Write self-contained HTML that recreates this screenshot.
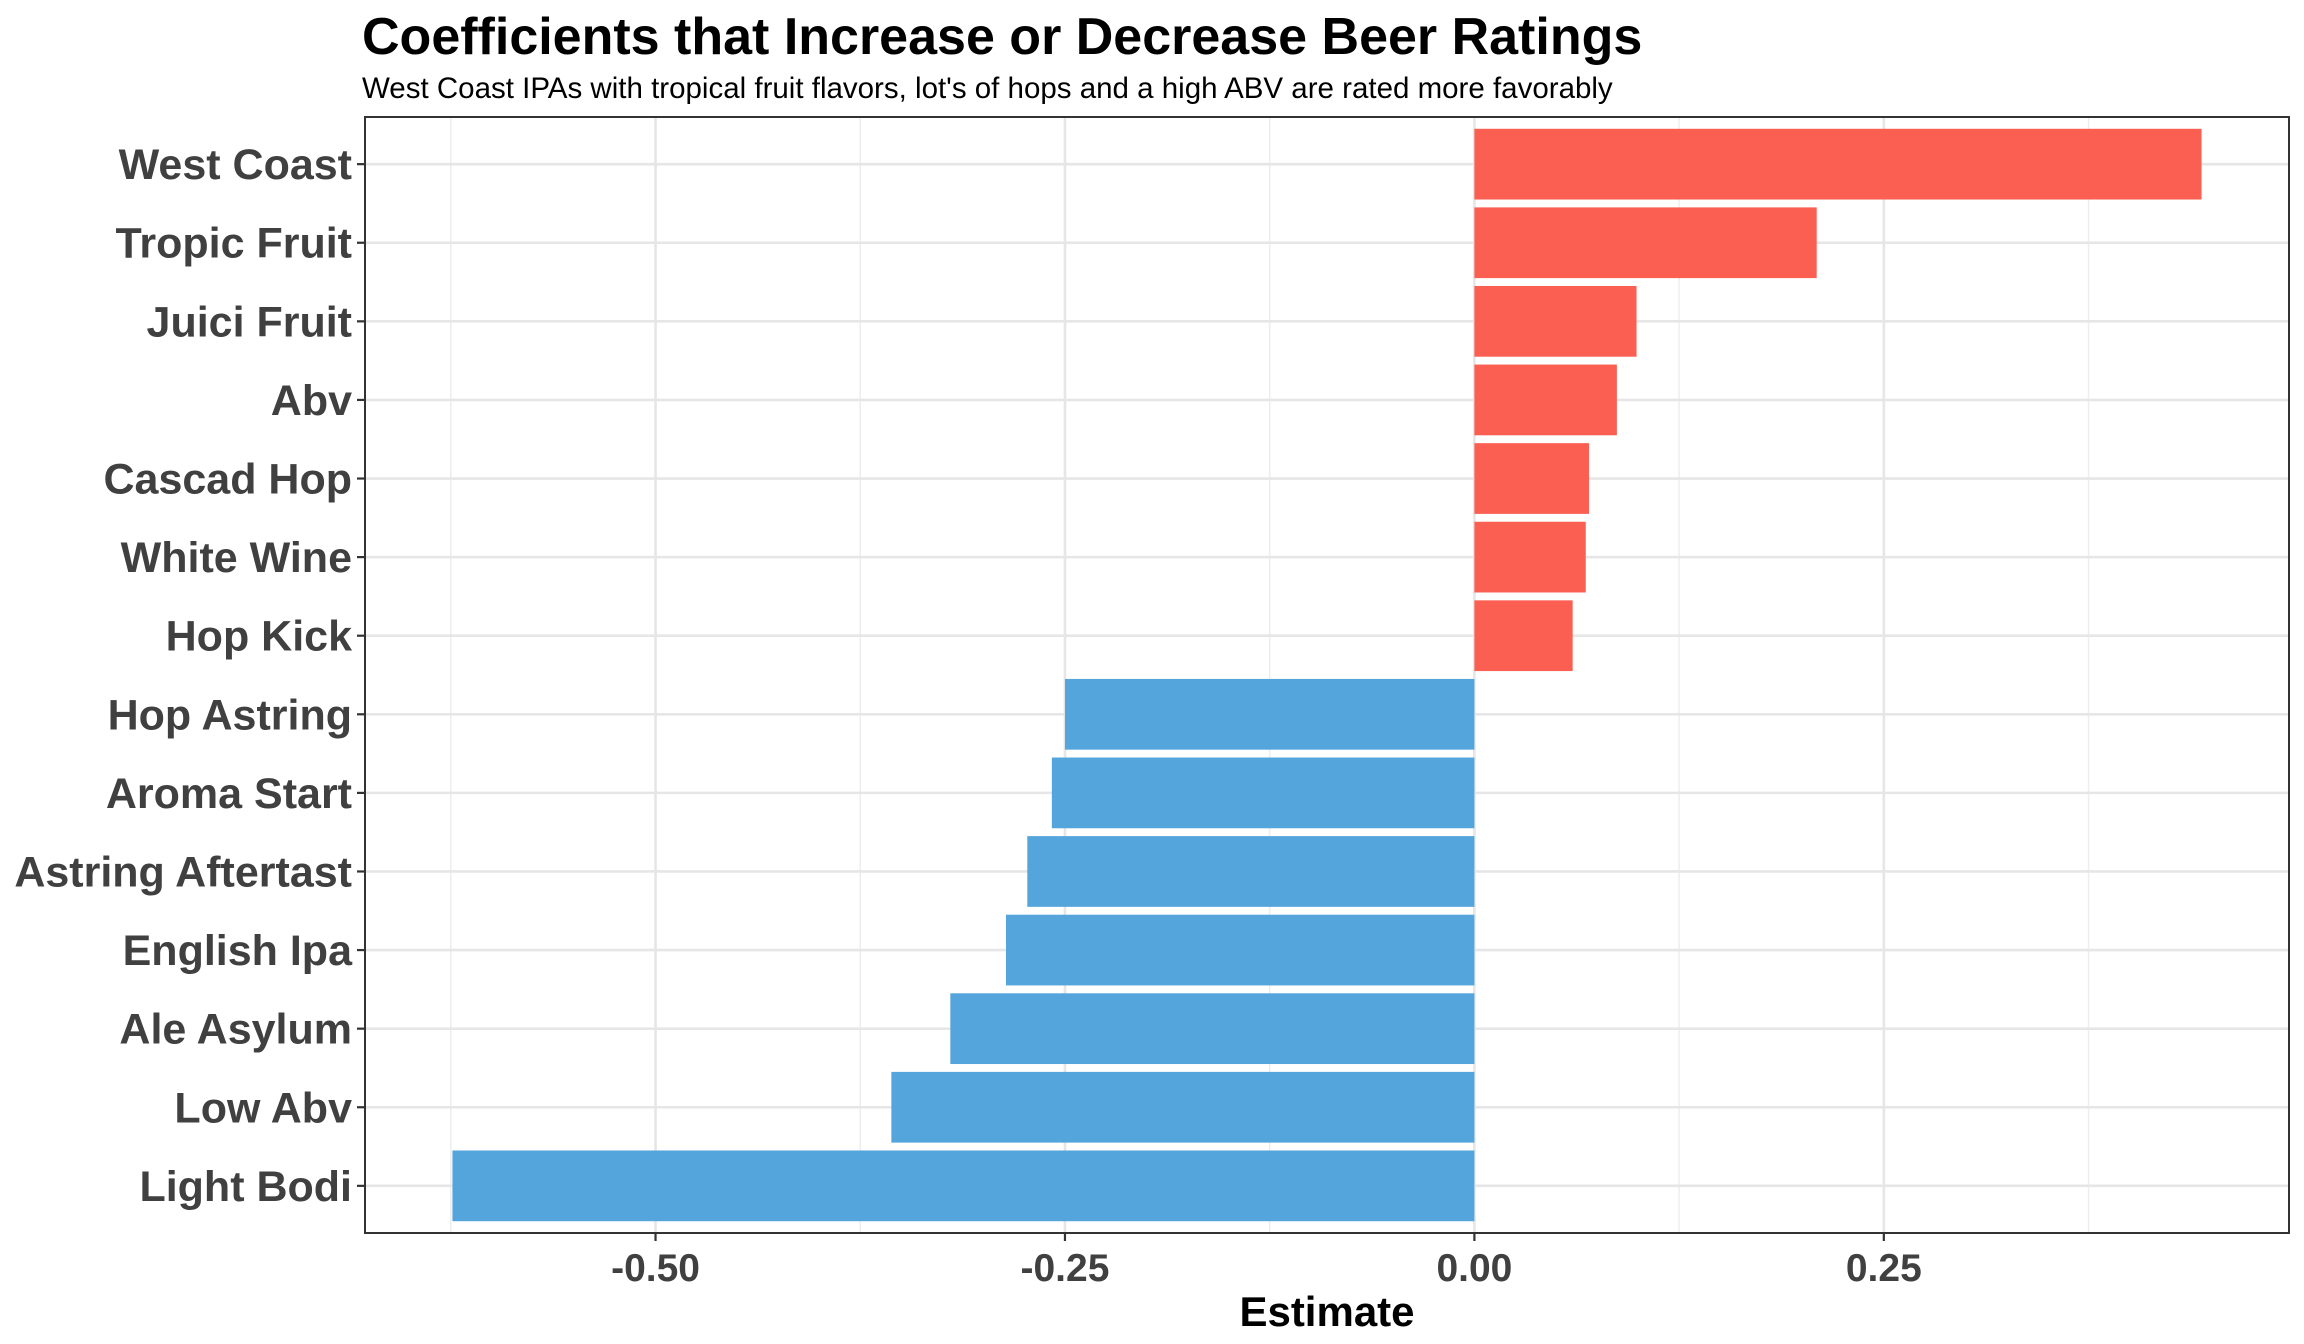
<!DOCTYPE html>
<html><head><meta charset="utf-8"><style>
html,body{margin:0;padding:0;background:#fff;}
svg{display:block;font-family:"Liberation Sans",Arial,sans-serif;}
</style></head><body>
<svg id="chart" width="2304" height="1344" viewBox="0 0 2304 1344" xmlns="http://www.w3.org/2000/svg">
<text x="362" y="54" font-size="52" font-weight="bold" fill="#000">Coefficients that Increase or Decrease Beer Ratings</text>
<text x="362" y="98" font-size="29.5" fill="#000">West Coast IPAs with tropical fruit flavors, lot's of hops and a high ABV are rated more favorably</text>
<g id="grid"></g><g id="bars"></g><g id="axes"></g>
<text x="1327" y="1326" font-size="42" font-weight="bold" text-anchor="middle" fill="#000">Estimate</text>
</svg>
<script>
const categories = ["West Coast","Tropic Fruit","Juici Fruit","Abv","Cascad Hop","White Wine","Hop Kick","Hop Astring","Aroma Start","Astring Aftertast","English Ipa","Ale Asylum","Low Abv","Light Bodi"];
const estimates = [0.444,0.209,0.099,0.087,0.070,0.068,0.060,-0.250,-0.258,-0.273,-0.286,-0.320,-0.356,-0.624];
const xTicks = [-0.5,-0.25,0,0.25];
const xTickLabels = ["-0.50","-0.25","0.00","0.25"];

const NS="http://www.w3.org/2000/svg";
const L=365,R=2289,T=117,B=1233;
const lo=Math.min(0,...estimates),hi=Math.max(0,...estimates);
const pad=(hi-lo)*0.05, x0=lo-pad, x1=hi+pad;
const X=v=>L+(v-x0)/(x1-x0)*(R-L);
const n=categories.length, band=(B-T)/(n-1+1.2);
const Y=i=>T+band*(0.6+i);
function mk(tag,attrs,parent){const e=document.createElementNS(NS,tag);for(const k in attrs)e.setAttribute(k,attrs[k]);parent.appendChild(e);return e;}
const grid=document.getElementById('grid'),bars=document.getElementById('bars'),axes=document.getElementById('axes');
for(let i=0;i<xTicks.length;i++){
  const mids=[xTicks[i]-0.125];
  if(i===xTicks.length-1) mids.push(xTicks[i]+0.125);
  for(const m of mids){ if(m>x0&&m<x1){
    const g=mk('line',{x1:X(m),x2:X(m),y1:T,y2:B,stroke:'#ededed','stroke-width':1.5},grid);
    
    
  }}
}
xTicks.forEach((t,i)=>{
  const g=mk('line',{x1:X(t),x2:X(t),y1:T,y2:B,stroke:'#e6e6e6','stroke-width':2.6},grid);
  
  
  const tk=mk('line',{x1:X(t),x2:X(t),y1:B,y2:B+8,stroke:'#333','stroke-width':2.2},axes);
  
  
  const tx=mk('text',{x:X(t),y:B+48,'font-size':39,'font-weight':'bold','text-anchor':'middle',fill:'#404040'},axes);
  tx.textContent=xTickLabels[i];
  
  
});
categories.forEach((c,i)=>{
  const y=Y(i);
  const g=mk('line',{x1:L,x2:R,y1:y,y2:y,stroke:'#e6e6e6','stroke-width':2.6},grid);
  
  
  const v=estimates[i];
  const bh=band*0.9;
  const r=mk('rect',{x:Math.min(X(0),X(v)),y:y-bh/2,width:Math.abs(X(v)-X(0)),height:bh,fill:v>=0?'#FA5F52':'#54A5DB'},bars);
  
  
  const tk=mk('line',{x1:L-8,x2:L,y1:y,y2:y,stroke:'#333','stroke-width':2.2},axes);
  
  
  const tx=mk('text',{x:L-13,y:y+15,'font-size':43,'font-weight':'bold','text-anchor':'end',fill:'#404040'},axes);
  tx.textContent=c;
  
  
});
const border=mk('rect',{x:L,y:T,width:R-L,height:B-T,fill:'none',stroke:'#333','stroke-width':2},axes);


</script>
</body></html>
